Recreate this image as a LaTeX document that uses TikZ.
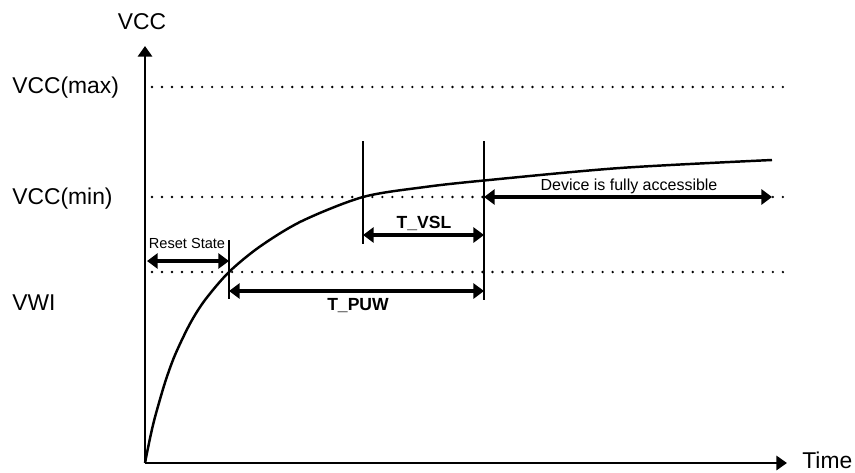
\documentclass[tikz,border=0pt]{standalone}
\usepackage{fontspec}
\setmainfont{Liberation Sans}
\usetikzlibrary{positioning,arrows.meta}

\begin{document}
\begin{tikzpicture}[
		x=0.02cm,y=-0.02cm,
		axis/.style={line width=1.6pt,-{Triangle[length=6pt,width=8pt]}},
		level/.style={line width=1.5pt,line cap=round,dash pattern=on 0pt off 5.7pt},
		marker/.style={line width=1.1pt},
		span/.style={line width=1.8pt,{Triangle[length=6pt,width=8.5pt]}-{Triangle[length=6pt,width=8.5pt]}},
		biglabel/.style={font=\fontsize{13}{15}\selectfont,inner sep=0pt},
		spanlabel/.style={font=\fontsize{10}{12}\selectfont\bfseries},
		smalllabel/.style={font=\fontsize{8.3}{10}\selectfont}
		]
		\useasboundingbox (0,0) rectangle (855,473);
		% axes
		\coordinate (origin) at (145,463);
		\coordinate (ytip) at (145,46);
		\coordinate (xtip) at (787,463);
		\draw[axis] (origin) -- (ytip);
		\draw[axis] (origin) -- (xtip);
		\node[biglabel] (vcc) at (142,22) {VCC};
		\node[biglabel,anchor=west] (time) at (802,460) {Time};
		% voltage levels
		\node[biglabel,anchor=west] (vmax) at (12,88) {VCC(max)};
		\node[biglabel,anchor=west] (vmin) at (12,199) {VCC(min)};
		\node[biglabel,anchor=west] (vwi) at (12,303) {VWI};
		\coordinate (maxa) at (152,87);   \coordinate (maxb) at (790,87);
		\coordinate (mina) at (152,197);  \coordinate (minb) at (790,197);
		\coordinate (wia) at (152,272);   \coordinate (wib) at (790,272);
		\draw[level] (maxa) -- (maxb);
		\draw[level] (mina) -- (minb);
		\draw[level] (wia) -- (wib);
		% supply curve
		\draw[line width=1.4pt] plot[smooth] coordinates {
			(145,463) (150,438.3) (155,417.1) (165,382.6) (175,355) (190,323.7)
			(205,300) (229,272) (260,246.5) (302,221) (363,197) (425,187)
			(484,180.5) (620,168) (772,160)};
		% markers
		\coordinate (resettop) at (229,240); \coordinate (resetbot) at (229,299);
		\coordinate (vsltop) at (363,141);   \coordinate (vslbot) at (363,244);
		\coordinate (puwtop) at (484,141);   \coordinate (puwbot) at (484,300);
		\draw[marker] (resettop) -- (resetbot);
		\draw[marker] (vsltop) -- (vslbot);
		\draw[marker] (puwtop) -- (puwbot);
		% spans
		\coordinate (reseta) at (147,261); \coordinate (resetb) at (229,261);
		\coordinate (vsla) at (363,235);   \coordinate (vslb) at (484,235);
		\coordinate (puwa) at (229,291);   \coordinate (puwb) at (484,291);
		\coordinate (deva) at (484,197);   \coordinate (devb) at (772,197);
		\draw[span] (reseta) -- (resetb);
		\draw[span] (vsla) -- (vslb);
		\draw[span] (puwa) -- (puwb);
		\draw[span] (deva) -- (devb);
		\node[smalllabel] (reset) at (187,243) {Reset State};
		\node[spanlabel] (vsl) at (424,223) {T\_VSL};
		\node[spanlabel] (puw) at (358,306) {T\_PUW};
		\node[smalllabel,font=\fontsize{9.1}{11}\selectfont] (dev) at (629,186) {Device is fully accessible};
	\end{tikzpicture}
\end{document}
